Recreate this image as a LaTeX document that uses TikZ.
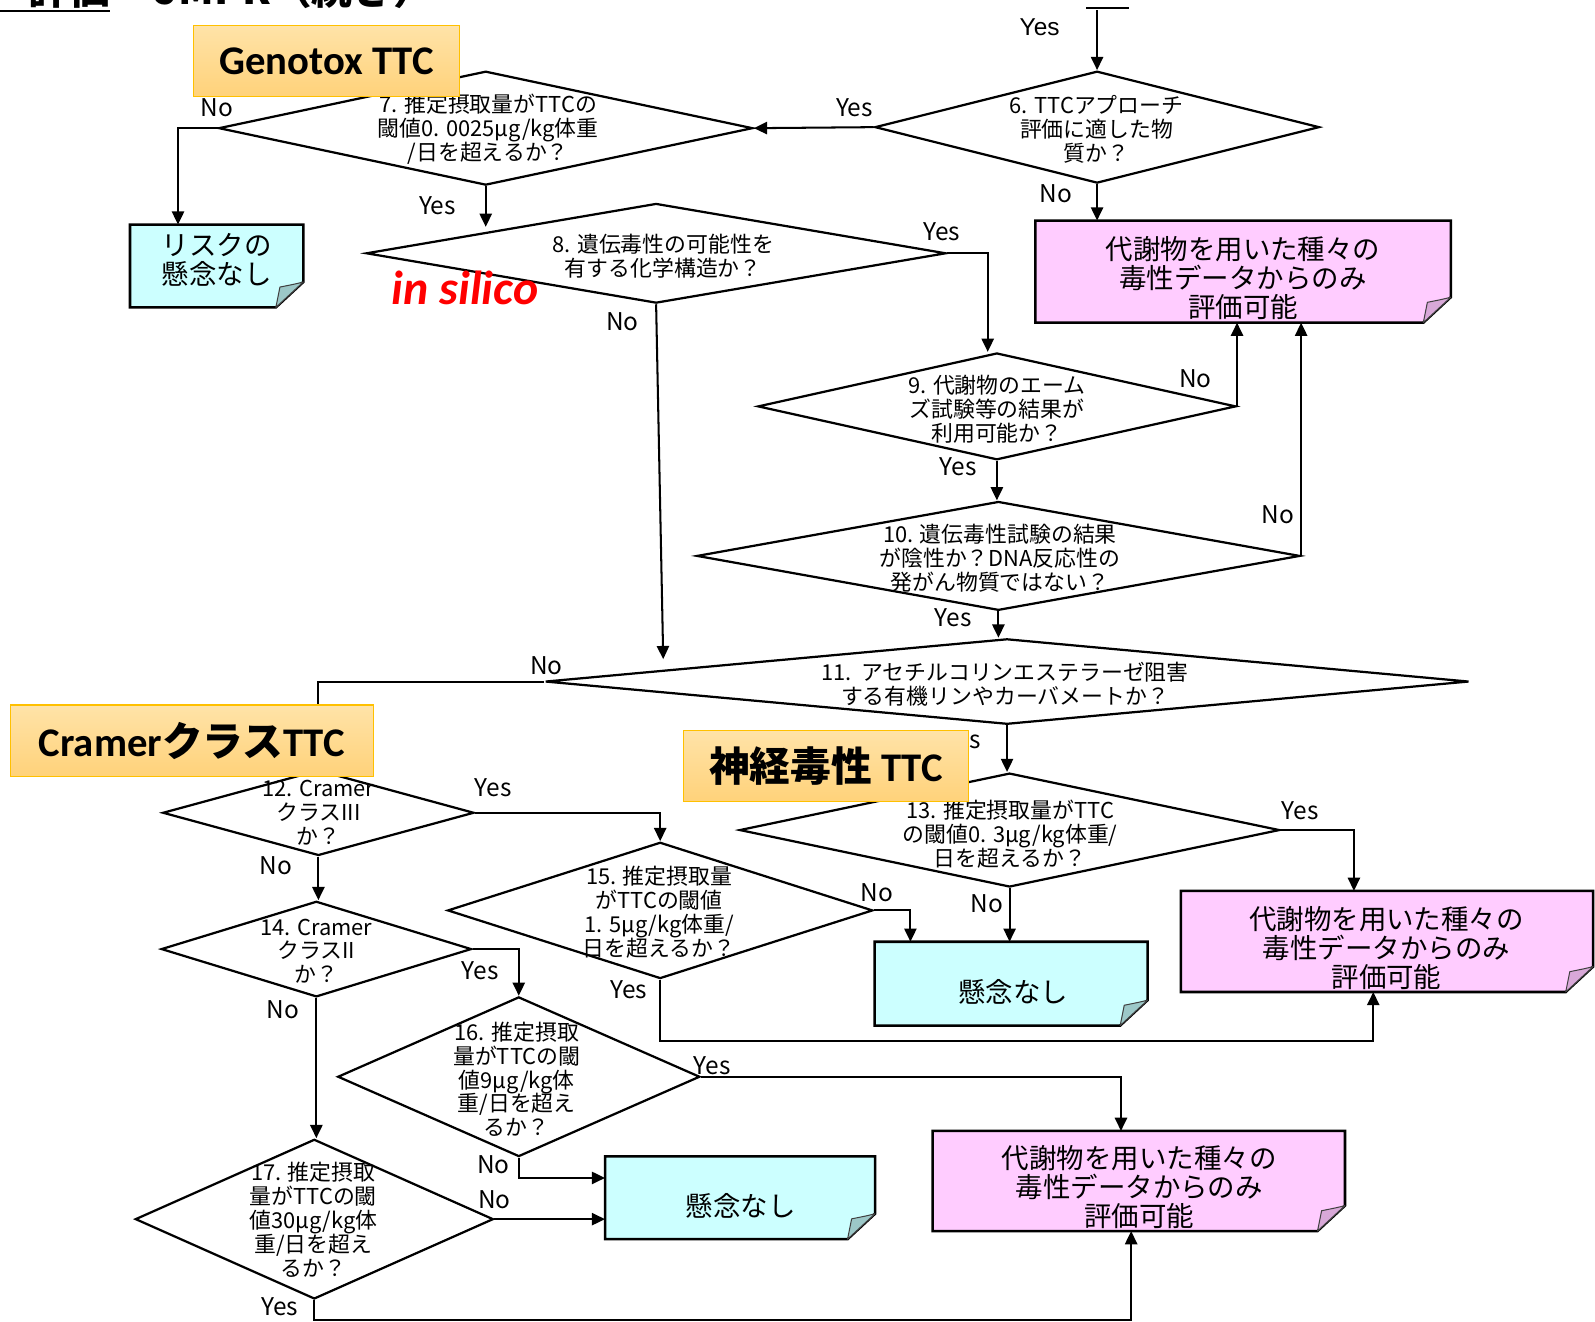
\documentclass[tikz,border=0pt]{standalone}
\usepackage{fontspec}
\setmainfont{Noto Sans CJK JP}
\newfontfamily\carlito{Carlito}
\newfontfamily\arialish{Liberation Sans}
\usetikzlibrary{shapes.geometric,arrows.meta,calc}

\definecolor{notepink}{HTML}{FFCCFF}
\definecolor{foldpink}{HTML}{D8A8D8}
\definecolor{notecyan}{HTML}{CCFFFF}
\definecolor{foldcyan}{HTML}{9CC8C8}
\definecolor{tagtop}{HTML}{FFE3A8}
\definecolor{tagbot}{HTML}{FFD27A}
\definecolor{tagline}{HTML}{FFC000}

\tikzset{
  dia/.style={diamond, draw, line width=2.2pt, fill=white, inner sep=0pt},
  qtext/.style={font=\fontsize{21.5}{23.5}\selectfont, align=center, inner sep=0pt},
  lbl/.style={font=\fontsize{24}{24}\selectfont, inner sep=0pt},
  arr/.style={line width=2pt, -{Triangle[length=13pt,width=12pt]}},
  notetext/.style={font=\fontsize{27}{28.5}\selectfont, align=center, inner sep=0pt},
  tag/.style={rectangle, draw=tagline, line width=1.2pt, top color=tagtop,
    bottom color=tagbot, inner sep=0pt, font=\bfseries\fontsize{40}{40}\selectfont},
}

% result box with a turned-down corner
\newcommand\notebox[6]{%
  \node[rectangle, inner sep=0pt, minimum width=#3pt, minimum height=#4pt] (#1) at (#2) {};
  \filldraw[fill=#5, line width=2.5pt, line join=miter]
    (#1.north west) -- (#1.north east) -- ([yshift=25pt]#1.south east)
    -- ([xshift=-27pt]#1.south east) -- (#1.south west) -- cycle;
  \filldraw[fill=#6, draw=black!75, line width=1pt, line join=round]
    ([yshift=25pt]#1.south east)
    .. controls ([xshift=-8pt,yshift=23pt]#1.south east) .. ([xshift=-23pt,yshift=20pt]#1.south east)
    .. controls ([xshift=-25pt,yshift=10pt]#1.south east) .. ([xshift=-27pt]#1.south east) -- cycle;
}

\begin{document}
\begin{tikzpicture}[x=1pt,y=-1pt]
\useasboundingbox (0,0) rectangle (1568,1299);

% ---- decision diamonds ----
\node[dia, minimum width=437pt, minimum height=110pt] (d6) at (1078.5,125) {};
\node[dia, minimum width=525pt, minimum height=112pt] (d7) at (477.5,126) {};
\node[dia, minimum width=570pt, minimum height=98pt] (d8) at (645,249) {};
\node[dia, minimum width=470pt, minimum height=105pt] (d9) at (980,399.5) {};
\node[dia, minimum width=593pt, minimum height=107pt] (d10) at (981.5,546.5) {};
\node[dia, minimum width=908pt, minimum height=84pt] (d11) at (990,670) {};
\node[dia, minimum width=306pt, minimum height=84pt] (d12) at (313,799) {};
\node[dia, minimum width=531pt, minimum height=112pt] (d13) at (992.5,816) {};
\node[dia, minimum width=305pt, minimum height=94pt] (d14) at (311,933) {};
\node[dia, minimum width=418pt, minimum height=134pt] (d15) at (649,895) {};
\node[dia, minimum width=356pt, minimum height=157pt] (d16) at (510,1058.5) {};
\node[dia, minimum width=352pt, minimum height=157pt] (d17) at (309,1198.5) {};

% ---- result boxes ----
\notebox{n0}{213,261.5}{170}{81}{notecyan}{foldcyan}
\notebox{p1}{1222,267}{408}{100}{notepink}{foldpink}
\notebox{c1}{994,967}{268}{82}{notecyan}{foldcyan}
\notebox{p2}{1363.5,925.5}{405}{99}{notepink}{foldpink}
\notebox{c2}{727.5,1177.5}{265}{81}{notecyan}{foldcyan}
\notebox{p3}{1119.5,1161}{405}{98}{notepink}{foldpink}

% ---- connectors ----
\coordinate (topin) at (1078.5,10);
\draw[line width=1.5pt] (1068,8) -- (1110,8);
\draw[arr] (topin) -- (d6.north);
\draw[arr] (d6.west) -- (d7.east);
\draw[arr] (d6.south) -- (d6.south |- p1.north);
\coordinate (c7) at (175,126);
\draw[arr] (d7.west) -- (c7) -- (c7 |- n0.north);
\coordinate (e8) at (477.5,223);
\draw[arr] (d7.south) -- (e8);
\draw[arr] (d8.east) -| ([xshift=-9pt]d9.north);
\coordinate (e11) at (652,648);
\draw[arr] (d8.south) -- (e11);
\draw[arr] (d9.east) -- (d9.east |- p1.south);
\draw[arr] (d9.south) -- (d9.south |- d10.north);
\draw[arr] (d10.east) -- (d10.east |- p1.south);
\draw[arr] (d10.south) -- (d10.south |- d11.north);
\draw[arr] (d11.west) -| (d12.north);
\draw[arr] (d11.south) -- (d11.south |- d13.north);
\draw[arr] (d12.east) -| (d15.north);
\draw[arr] (d12.south) -- (d12.south |- d14.north);
\draw[arr] (d13.east) -| ([xshift=-32.5pt]p2.north);
\draw[arr] (d13.south) -- (d13.south |- c1.north);
\draw[arr] (d15.east) -| ([xshift=-99pt]c1.north);
\draw[arr] (d15.south) -- ++(0,60) -| ([xshift=-13.5pt]p2.south);
\draw[arr] (d14.east) -| (d16.north);
\draw[arr] (d14.south) -- (d14.south |- d17.north);
\draw[arr] (d16.east) -| ([xshift=-17.5pt]p3.north);
\draw[arr] (d16.south) |- ([yshift=19.5pt]c2.west);
\draw[arr] (d17.east) -- (d17.east -| c2.west);
\coordinate (low) at (309,1298);
\draw[arr] (d17.south) -- (low) -| ([xshift=-7.5pt]p3.south);

% ---- question texts ----
\node[qtext] (d6t) at (1078,127) {6. TTCアプローチ\\評価に適した物\\質か？};
\node[qtext] (d7t) at (480,127) {7. 推定摂取量がTTCの\\閾値0. 0025μg/kg体重\\/日を超えるか？};
\node[qtext] (d8t) at (652,252) {8. 遺伝毒性の可能性を\\有する化学構造か？};
\node[qtext] (d9t) at (980,402) {9. 代謝物のエーム\\ズ試験等の結果が\\利用可能か？};
\node[qtext] (d10t) at (983,549) {10. 遺伝毒性試験の結果\\が陰性か？DNA反応性の\\発がん物質ではない？};
\node[qtext] (d11t) at (988,673) {11.\ \ アセチルコリンエステラーゼ阻害\\する有機リンやカーバメートか？};
\node[qtext] (d12t) at (313,799) {12. Cramer\\クラスIII\\か？};
\node[qtext] (d13t) at (993,820) {13. 推定摂取量がTTC\\の閾値0. 3μg/kg体重/\\日を超えるか？};
\node[qtext] (d14t) at (311,935) {14. Cramer\\クラスII\\か？};
\node[qtext] (d15t) at (648,897) {15. 推定摂取量\\がTTCの閾値\\1. 5μg/kg体重/\\日を超えるか？};
\node[qtext] (d16t) at (508,1061) {16. 推定摂取\\量がTTCの閾\\値9μg/kg体\\重/日を超え\\るか？};
\node[qtext] (d17t) at (308,1199) {17. 推定摂取\\量がTTCの閾\\値30μg/kg体\\重/日を超え\\るか？};

% ---- result texts ----
\node[notetext] (n0t) at (213,255) {リスクの\\懸念なし};
\node[notetext] (p1t) at (1222,273) {代謝物を用いた種々の\\毒性データからのみ\\評価可能};
\node[notetext] (c1t) at (996,975) {懸念なし};
\node[notetext] (p2t) at (1363,932) {代謝物を用いた種々の\\毒性データからのみ\\評価可能};
\node[notetext] (c2t) at (728,1185) {懸念なし};
\node[notetext] (p3t) at (1120,1167) {代謝物を用いた種々の\\毒性データからのみ\\評価可能};

% ---- branch labels ----
\node[lbl, font=\arialish\fontsize{24}{24}\selectfont] (l0) at (1022,27) {Yes};
\node[lbl] (l6y) at (840,106) {Yes};
\node[lbl] (l6n) at (1038,190) {No};
\node[lbl] (l7n) at (213,106) {No};
\node[lbl] (l7y) at (430,202) {Yes};
\node[lbl] (l8y) at (926,228) {Yes};
\node[lbl] (l8n) at (612,316) {No};
\node[lbl] (l9n) at (1175,372) {No};
\node[lbl] (l9y) at (942,459) {Yes};
\node[lbl] (l10n) at (1256,506) {No};
\node[lbl] (l10y) at (937,607) {Yes};
\node[lbl] (l11n) at (537,654) {No};
\node[lbl] (l11y) at (946,727) {Yes};
\node[lbl] (l12y) at (485,774) {Yes};
\node[lbl] (l12n) at (271,851) {No};
\node[lbl] (l13y) at (1278,797) {Yes};
\node[lbl] (l13n) at (970,888) {No};
\node[lbl] (l15n) at (862,878) {No};
\node[lbl] (l15y) at (618,973) {Yes};
\node[lbl] (l14y) at (472,954) {Yes};
\node[lbl] (l14n) at (278,993) {No};
\node[lbl] (l16y) at (700,1048) {Yes};
\node[lbl] (l16n) at (485,1145) {No};
\node[lbl] (l17n) at (486,1179) {No};
\node[lbl] (l17y) at (275,1285) {Yes};

% ---- section tags ----
\node[tag, minimum width=262pt, minimum height=70pt] (tagG) at (321,60) {\carlito Genotox TTC};
\node[tag, minimum width=357pt, minimum height=70pt] (tagC) at (188.5,728) {{\carlito Cramer}クラス{\carlito TTC}};
\node[tag, minimum width=280pt, minimum height=70pt] (tagN) at (812,753) {神経毒性 {\carlito TTC}};

\node[anchor=base west, inner sep=0pt, text=red,
      font=\carlito\bfseries\itshape\fontsize{47}{47}\selectfont] (silico) at (385,299) {in silico};

% ---- heading (runs off the top) ----
\node[anchor=base west, inner sep=0pt, font=\bfseries\fontsize{40}{40}\selectfont] (hd1) at (28,4) {評価};
\node[anchor=base west, inner sep=0pt, font=\bfseries\fontsize{40}{40}\selectfont] (hd2) at (112,4) {・JMPR（続き）};
\draw[line width=2.5pt] (0,11) -- (108,11);
\end{tikzpicture}
\end{document}
